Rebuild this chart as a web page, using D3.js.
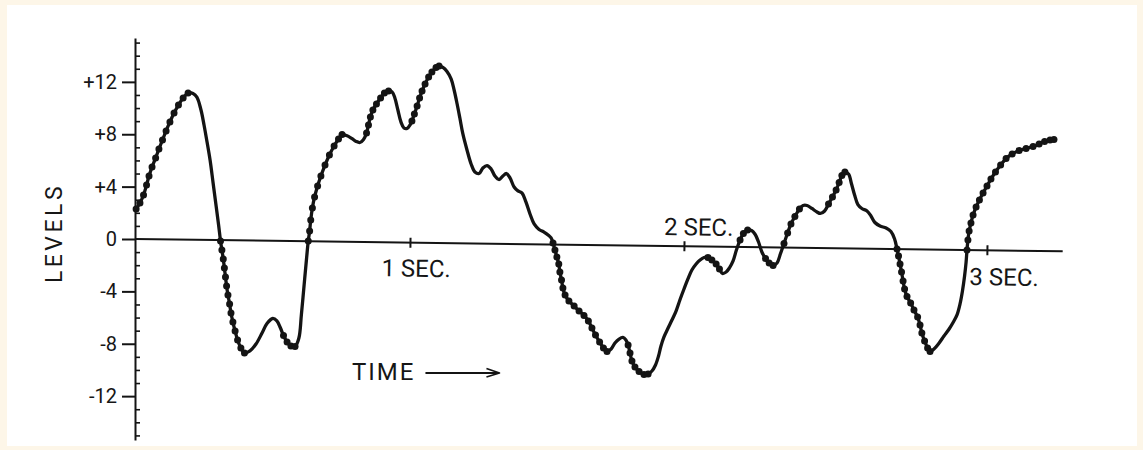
<!DOCTYPE html>
<html>
<head>
<meta charset="utf-8">
<script src="https://cdn.jsdelivr.net/npm/d3@7"></script>
<style>
  html, body { margin: 0; padding: 0; background: #fdf6e8; }
  svg { display: block; }
  text { font-family: Roboto, "Liberation Sans", sans-serif; fill: #161616; }
</style>
</head>
<body>
<svg id="chart" width="1143" height="450"></svg>
<script>
// Speech-level trace: time in seconds, level in steps.
const times = [
  0.004,0.018,0.031,0.042,0.051,0.062,0.075,0.087,0.100,0.113,0.127,0.142,0.158,0.175,0.193,
  0.211,0.225,0.240,0.251,0.262,0.273,0.284,0.295,0.304,
  0.311,0.316,0.321,0.325,0.329,0.333,0.338,0.344,0.349,0.356,0.364,0.373,0.385,0.398,
  0.418,0.440,0.462,0.480,0.501,0.516,0.529,
  0.540,0.553,0.567,0.582,
  0.596,0.605,0.615,0.624,
  0.630,0.635,0.639,0.645,0.653,0.664,0.676,0.691,0.707,0.724,0.740,0.753,
  0.769,0.788,0.804,0.818,0.831,
  0.842,0.849,0.856,0.865,0.878,0.893,0.907,0.922,
  0.935,0.945,0.956,0.967,0.978,0.989,1.002,
  1.007,1.016,1.026,1.035,1.044,1.055,1.068,1.080,1.095,1.106,
  1.120,1.135,1.150,1.161,1.172,1.182,1.193,1.208,1.223,1.237,1.252,1.266,1.281,1.296,1.310,
  1.325,1.339,1.352,1.365,1.380,1.394,1.409,1.423,1.438,1.453,1.471,1.489,1.504,1.515,
  1.522,1.529,1.536,1.543,1.547,1.553,1.558,1.566,1.580,1.599,1.617,1.635,1.651,1.664,1.677,1.692,1.706,1.719,
  1.734,1.748,1.763,1.777,1.788,
  1.796,1.803,1.810,1.821,1.836,1.854,1.869,
  1.883,1.896,1.907,1.916,1.927,1.942,1.956,1.971,1.985,2.000,2.013,2.026,2.040,2.053,2.066,
  2.079,2.092,2.106,2.117,
  2.127,2.139,2.150,2.162,2.173,
  2.185,2.196,2.210,
  2.223,2.234,2.246,2.257,
  2.269,2.281,2.294,
  2.307,2.318,
  2.330,2.342,2.353,2.366,2.381,
  2.393,2.406,2.422,2.439,2.450,2.464,
  2.477,2.490,2.502,2.512,2.521,2.531,
  2.543,2.553,2.563,2.574,2.587,2.604,2.617,2.630,2.647,2.667,2.683,2.695,
  2.703,2.708,2.713,2.718,2.723,2.728,2.736,2.748,2.759,2.771,2.779,2.785,2.794,2.804,2.812,
  2.825,2.842,2.858,2.875,2.889,2.901,2.911,2.919,2.926,2.931,
  2.934,2.937,2.941,2.947,2.954,2.964,2.975,2.987,3.000,3.013,3.028,3.045,3.063,3.083,3.106,
  3.129,3.152,3.172,3.190,3.208,3.221
];

const levels = [
  2.29,2.75,3.36,4.12,4.81,5.50,6.19,6.87,7.56,8.25,8.94,9.62,10.23,10.77,11.15,
  11.11,10.84,9.85,8.71,7.41,6.03,4.28,2.52,1.07,
  -0.15,-0.84,-1.53,-2.21,-2.90,-3.59,-4.28,-4.96,-5.65,-6.34,-7.03,-7.71,-8.32,-8.71,
  -8.55,-8.02,-7.18,-6.45,-6.07,-6.26,-6.80,
  -7.37,-7.87,-8.17,-8.21,
  -7.56,-5.80,-3.51,-1.45,
  -0.15,0.61,1.45,2.37,3.21,4.05,4.81,5.65,6.42,7.10,7.64,7.98,
  7.90,7.68,7.45,7.37,7.60,
  8.10,8.71,9.32,9.85,10.31,10.77,11.15,11.30,
  11.23,10.77,9.85,8.94,8.48,8.44,8.78,
  9.01,9.55,10.16,10.77,11.30,11.84,12.37,12.75,13.10,13.21,
  13.10,12.79,12.22,11.38,10.31,9.24,8.02,6.80,5.73,5.12,5.00,5.42,5.61,5.35,4.81,
  4.54,4.81,5.00,4.66,3.97,3.67,3.51,2.83,1.91,1.15,0.73,0.53,0.31,0.08,
  -0.31,-0.84,-1.37,-1.91,-2.52,-3.13,-3.74,-4.28,-4.73,-5.12,-5.50,-5.84,-6.26,-6.80,-7.33,-7.87,-8.32,-8.59,
  -8.40,-7.94,-7.64,-7.52,-7.71,
  -8.10,-8.71,-9.32,-9.78,-10.12,-10.35,-10.31,
  -10.08,-9.62,-8.94,-8.17,-7.48,-6.80,-6.19,-5.50,-4.66,-3.82,-3.05,-2.37,-1.91,-1.60,-1.41,
  -1.41,-1.60,-1.91,-2.29,
  -2.63,-2.52,-2.21,-1.68,-0.84,
  -0.08,0.42,0.69,
  0.65,0.38,-0.23,-0.99,
  -1.49,-1.83,-2.02,
  -1.83,-1.15,
  -0.34,0.46,1.15,1.72,2.29,
  2.56,2.56,2.33,2.06,1.95,2.14,
  2.67,3.21,3.74,4.31,4.85,5.12,
  4.96,4.20,3.36,2.63,2.33,2.14,1.76,1.26,0.99,0.84,0.57,0.00,
  -0.76,-1.30,-1.91,-2.52,-3.21,-3.82,-4.39,-4.89,-5.42,-5.96,-6.57,-7.18,-7.79,-8.32,-8.59,
  -8.40,-7.94,-7.41,-6.87,-6.34,-5.80,-4.96,-3.97,-2.83,-1.76,
  -0.84,-0.08,0.61,1.22,1.83,2.44,2.98,3.51,4.05,4.58,5.12,5.65,6.15,6.49,6.76,
  6.91,7.06,7.26,7.45,7.56,7.60
];

// Stretches of the trace (start, end in seconds) where the samples are marked with dots.
const dottedSpans = [
  [0.004, 0.193], [0.311, 0.398], [0.540, 0.582], [0.630, 0.753], [0.842, 0.922],
  [1.007, 1.106], [1.522, 1.719], [1.796, 1.869], [2.079, 2.117], [2.185, 2.210],
  [2.269, 2.294], [2.330, 2.381], [2.477, 2.531], [2.703, 2.812], [2.934, 3.221]
];

const levelTicks = [-12, -8, -4, 0, 4, 8, 12];
const levelExtent = [-15.35, 15.35];
const secondMarks = [0, 1, 2, 3];
const secondTicks = [1, 2, 3];
const secondLabels = ["1 SEC.", "2 SEC.", "3 SEC."];
const timeEnd = 3.25;

const svg = d3.select("#chart");

// paper
svg.append("rect")
  .attr("x", 7).attr("y", 5)
  .attr("width", 1130).attr("height", 441)
  .attr("fill", "#ffffff");

// The second marks on the hand-drawn time line are not evenly spaced,
// so time uses a piecewise-linear scale through each mark.
const x = d3.scaleLinear().domain(secondMarks).range([135, 410, 684, 987]);
const y = d3.scaleLinear().domain(levelExtent).range([440, 38]);

const ink = "#141414";

// ---- level axis ----
const yAxis = d3.axisLeft(y)
  .tickValues(levelTicks)
  .tickSize(13)
  .tickSizeOuter(0)
  .tickPadding(5)
  .tickFormat(d => d > 0 ? "+" + d : String(d));

const gy = svg.append("g")
  .attr("transform", `translate(${x(0)},0)`)
  .call(yAxis);
gy.select(".domain").attr("stroke", ink).attr("stroke-width", 2);
gy.selectAll(".tick line").attr("stroke", ink).attr("stroke-width", 2);
gy.selectAll(".tick text")
  .attr("font-family", "Roboto, 'Liberation Sans', sans-serif")
  .attr("font-size", 20)
  .attr("fill", ink);

// unit ticks on the right side of the level axis
const unitTicks = d3.range(-15, 16).filter(d => d % 4 !== 0);
const gMinor = svg.append("g")
  .attr("transform", `translate(${x(0)},0)`)
  .call(d3.axisRight(y).tickValues(unitTicks).tickSize(5).tickSizeOuter(0).tickFormat(""));
gMinor.select(".domain").remove();
gMinor.selectAll(".tick line").attr("stroke", ink).attr("stroke-width", 1.6);

// axis title
svg.append("text")
  .attr("transform", `translate(62,${y(0) - 6}) rotate(-90)`)
  .attr("text-anchor", "middle")
  .attr("font-size", 23)
  .attr("letter-spacing", 3.5)
  .text("LEVELS");

// ---- time axis (drawn with a slight downward slant) ----
const slant = Math.atan2(12.3, 928) * 180 / Math.PI;
const gx = svg.append("g")
  .attr("transform", `rotate(${slant},${x(0)},${y(0)})`);

gx.append("line")
  .attr("x1", x(0)).attr("x2", x(timeEnd))
  .attr("y1", y(0)).attr("y2", y(0))
  .attr("stroke", ink).attr("stroke-width", 2);

const xAxis = d3.axisBottom(x)
  .tickValues(secondTicks)
  .tickSize(5)
  .tickFormat((d, i) => secondLabels[i]);

const gxa = gx.append("g")
  .attr("transform", `translate(0,${y(0)})`)
  .call(xAxis);
gxa.select(".domain").remove();
gxa.selectAll(".tick line")
  .attr("y1", -5).attr("y2", 5)
  .attr("stroke", ink).attr("stroke-width", 2);

const labelShift = { 1: [6, 34], 2: [14, -11], 3: [17, 35] };
gxa.selectAll(".tick text")
  .attr("font-family", "Roboto, 'Liberation Sans', sans-serif")
  .attr("font-size", 24)
  .attr("fill", ink)
  .attr("dy", null)
  .attr("x", d => labelShift[d][0])
  .attr("y", d => labelShift[d][1]);

// ---- trace ----
const trace = times.map((t, i) => ({ t, v: levels[i] }));

svg.append("path")
  .datum(trace)
  .attr("fill", "none")
  .attr("stroke", ink)
  .attr("stroke-width", 3.3)
  .attr("stroke-linejoin", "round")
  .attr("stroke-linecap", "round")
  .attr("d", d3.line()
    .x(d => x(d.t))
    .y(d => y(d.v))
    .curve(d3.curveCatmullRom.alpha(0.5)));

const marked = trace.filter(d =>
  dottedSpans.some(([a, b]) => d.t >= a - 1e-9 && d.t <= b + 1e-9));

svg.append("g")
  .selectAll("circle")
  .data(marked)
  .join("circle")
  .attr("cx", d => x(d.t))
  .attr("cy", d => y(d.v))
  .attr("r", 3.5)
  .attr("fill", ink);

// ---- TIME caption with arrow ----
const cap = svg.append("text")
  .attr("x", 352).attr("y", 380)
  .attr("font-size", 24)
  .attr("letter-spacing", 2)
  .text("TIME");
const bb = cap.node().getBBox();
const ax0 = bb.x + bb.width + 10, ax1 = ax0 + 74, ay = bb.y + bb.height / 2 + 1;
svg.append("path")
  .attr("d", `M${ax0},${ay}H${ax1}M${ax1 - 13},${ay - 4.5}L${ax1},${ay}L${ax1 - 13},${ay + 4}`)
  .attr("fill", "none")
  .attr("stroke", ink)
  .attr("stroke-width", 1.8)
  .attr("stroke-linejoin", "round");
</script>
</body>
</html>
